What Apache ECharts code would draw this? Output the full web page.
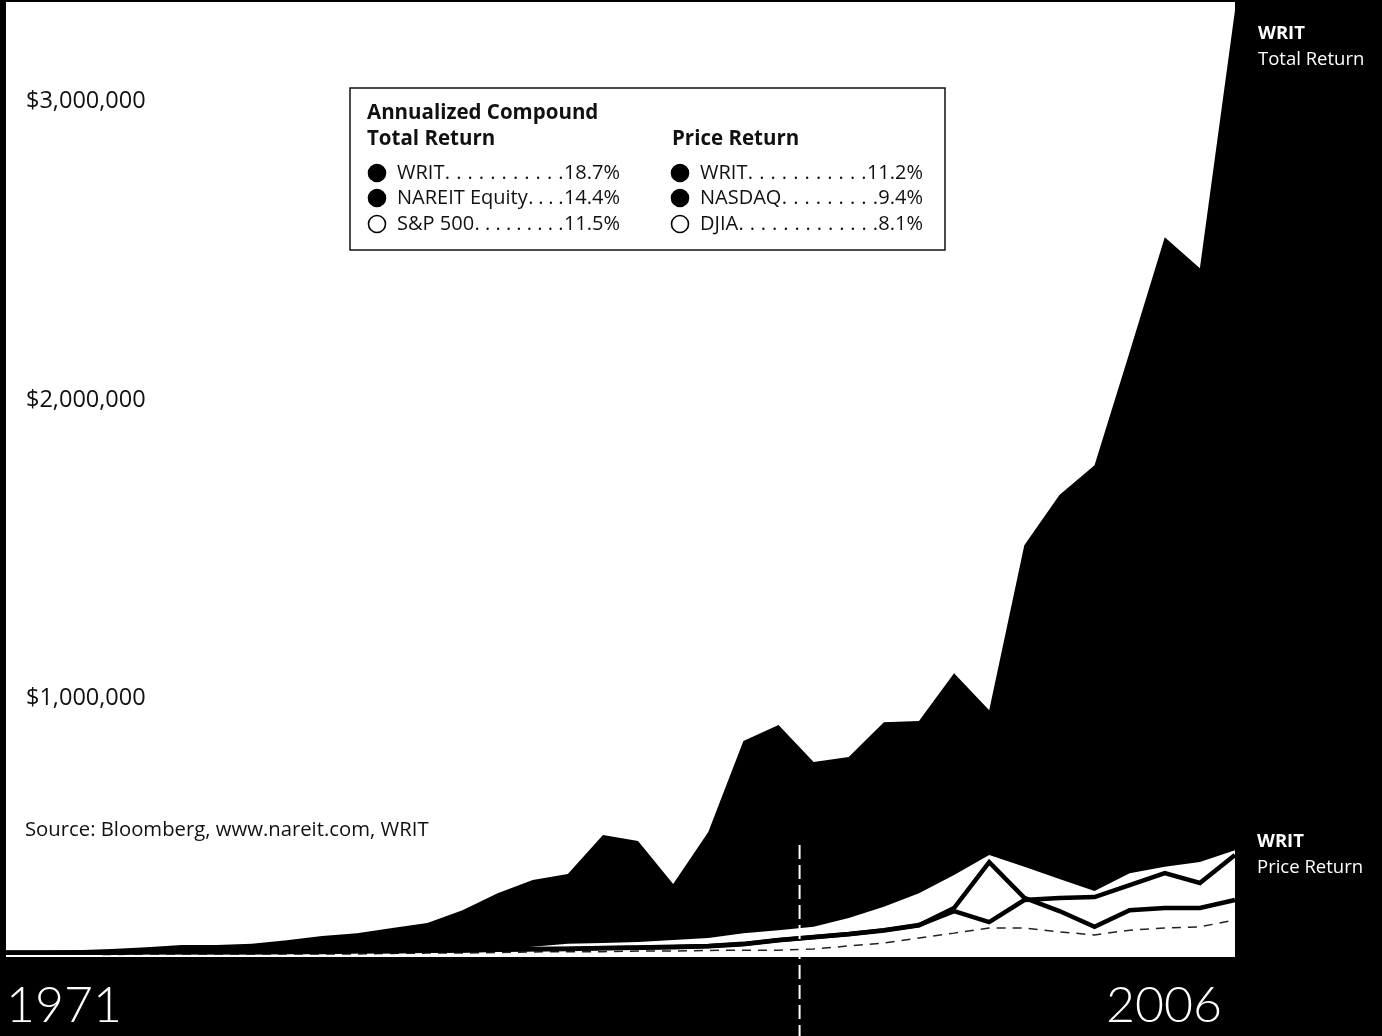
<!DOCTYPE html>
<html><head><meta charset="utf-8">
<script src="https://cdn.jsdelivr.net/npm/echarts@6/dist/echarts.min.js"></script>
<style>html,body{margin:0;padding:0;background:#000;}#c{width:1382px;height:1036px;}</style>
</head><body><div id="c"></div>
<script>
const years = [1971,1972,1973,1974,1975,1976,1977,1978,1979,1980,1981,1982,1983,1984,1985,1986,1987,1988,1989,1990,1991,1992,1993,1994,1995,1996,1997,1998,1999,2000,2001,2002,2003,2004,2005,2006];
const writTotal = [17000,20000,23000,27000,33000,40000,40000,44000,56000,70000,80000,97000,114000,157000,214000,258000,278000,409000,389000,245000,419000,724000,777000,653000,670000,787000,791000,951000,827000,1380000,1548000,1648000,2027000,2412000,2308000,3172000];
const sp500Total = [13000,13000,13000,13000,13000,15000,15000,17000,17000,18000,18000,20000,22000,23000,27000,34000,44000,47000,50000,57000,64000,80000,90000,101000,131000,168000,214000,275000,342000,302000,261000,221000,281000,302000,318000,358000];
const writPrice = [15000,15000,15000,15000,17000,17000,17000,17000,18000,18000,20000,20000,22000,23000,25000,27000,28000,30000,32000,34000,37000,44000,57000,67000,77000,90000,107000,154000,117000,191000,198000,201000,241000,281000,248000,342000];
const nasdaq = [14000,14000,14000,14000,16000,16000,16000,16000,17000,17000,19000,19000,21000,22000,24000,26000,27000,29000,31000,33000,36000,43000,56000,66000,76000,89000,106000,164000,318000,198000,154000,101000,157000,164000,164000,191000];
const djia = [10000,10000,10000,8000,10000,10000,10000,10000,10000,10000,10000,12000,13000,13000,15000,17000,18000,18000,20000,20000,22000,23000,23000,27000,37000,47000,64000,80000,97000,97000,84000,74000,90000,97000,101000,124000];
const yTicks = [1000000,2000000,3000000];
const legendTitle = ['Annualized Compound','Total Return'];
const legendTitle2 = 'Price Return';
const legendLeft = [['WRIT','18.7%',true],['NAREIT Equity','14.4%',true],['S&P 500','11.5%',false]];
const legendRight = [['WRIT','11.2%',true],['NASDAQ','9.4%',true],['DJIA','8.1%',false]];
const sourceText = 'Source: Bloomberg, www.nareit.com, WRIT';
const dividerYear = 1993.6;

const FONT = '"Open Sans", "Noto Sans", sans-serif';
const pair = arr => years.map((y,i)=>[y,arr[i]]);
const chart = echarts.init(document.getElementById('c'), null, {renderer:'canvas'});

const option = {
  animation:false,
  backgroundColor:'#000',
  grid:{left:6, right:147, top:2, bottom:79, show:true, backgroundColor:'#fff', borderWidth:0},
  xAxis:{type:'value', min:1971, max:2006, interval:35,
    axisLine:{show:false}, axisTick:{show:false}, splitLine:{show:false},
    axisLabel:{color:'#fff', margin:22, alignMinLabel:'left', alignMaxLabel:'right',
      formatter:v => v===1971 ? '{a|'+v+'}' : '{b|'+v+'}',
      rich:{a:{fontFamily:'Lato, "Open Sans", sans-serif', fontWeight:300, fontSize:50, lineHeight:53, color:'#fff'},
            b:{fontFamily:'Lato, "Open Sans", sans-serif', fontWeight:300, fontSize:50, lineHeight:53, color:'#fff', padding:[0,13,0,0]}}}},
  yAxis:{type:'value', min:0, max:3200000, interval:1000000,
    axisLine:{show:false}, axisTick:{show:false}, splitLine:{show:false},
    axisLabel:{inside:true, margin:20, align:'left', verticalAlign:'top', lineHeight:24, padding:[28,0,0,0],
      color:'#111', fontFamily:FONT, fontSize:23.5,
      formatter:v => yTicks.indexOf(v)>=0 ? '$'+v.toLocaleString('en-US') : ''}},
  series:[
    {name:'WRIT Total Return', type:'line', data:pair(writTotal), symbol:'none', z:1,
     lineStyle:{width:0, color:'#000'}, areaStyle:{color:'#000', opacity:1},
     endLabel:{show:true, distance:23, offset:[0,36], formatter:'{a|WRIT}\n{b|Total Return}',
       rich:{a:{color:'#fff', fontFamily:FONT, fontWeight:'bold', fontSize:18.5, lineHeight:26},
             b:{color:'#fff', fontFamily:FONT, fontSize:18.5, lineHeight:26}}}},
    {name:'S&P 500 Total Return', type:'line', data:pair(sp500Total), symbol:'none', z:2,
     lineStyle:{width:0, color:'#fff'}, areaStyle:{color:'#fff', opacity:1}},
    {name:'DJIA', type:'line', data:pair(djia), symbol:'none', z:3,
     lineStyle:{width:1.5, color:'#222', type:[9,7]}},
    {name:'NASDAQ', type:'line', data:pair(nasdaq), symbol:'none', z:4,
     lineStyle:{width:4.5, color:'#000', join:'miter'}},
    {name:'WRIT Price Return', type:'line', data:pair(writPrice), symbol:'none', z:5,
     lineStyle:{width:4.5, color:'#000', join:'miter'},
     endLabel:{show:true, distance:22, formatter:'{a|WRIT}\n{b|Price Return}',
       rich:{a:{color:'#fff', fontFamily:FONT, fontWeight:'bold', fontSize:18.5, lineHeight:26},
             b:{color:'#fff', fontFamily:FONT, fontSize:18.5, lineHeight:26}}}}
  ]
};
chart.setOption(option);

const cv = document.createElement('canvas').getContext('2d');
function w(text, font){ cv.font = font; return cv.measureText(text).width; }
const rowFont = '20px "Open Sans"';
const titleFont = 'bold 20.5px "Open Sans"';

const gfx = [];
const bx = 350, by = 88, bw = 595, bh = 162;
gfx.push({type:'rect', z:100, shape:{x:bx, y:by, width:bw, height:bh}, style:{fill:'#fff', stroke:'#111', lineWidth:1.5}});
gfx.push({type:'text', z:101, x:367, y:113, style:{text:legendTitle[0], fill:'#111', font:titleFont, verticalAlign:'middle'}});
gfx.push({type:'text', z:101, x:367, y:139, style:{text:legendTitle[1], fill:'#111', font:titleFont, verticalAlign:'middle'}});
gfx.push({type:'text', z:101, x:672, y:139, style:{text:legendTitle2, fill:'#111', font:titleFont, verticalAlign:'middle'}});
const rowsY = [173,198,224];
function addCol(rows, cx, tx, rx){
  rows.forEach((r,i)=>{
    const y = rowsY[i];
    gfx.push({type:'circle', z:101, shape:{cx:cx, cy:y, r:8.5}, style:{fill:r[2]?'#000':'#fff', stroke:'#000', lineWidth:1.6}});
    const nameW = w(r[0], rowFont), pctW = w(r[1], rowFont);
    gfx.push({type:'text', z:101, x:tx, y:y, style:{text:r[0], fill:'#111', font:rowFont, verticalAlign:'middle'}});
    gfx.push({type:'text', z:101, x:rx, y:y, style:{text:r[1], fill:'#111', font:rowFont, align:'right', verticalAlign:'middle'}});
    const s = tx + nameW + 3, e = rx - pctW - 3;
    const n = Math.max(2, Math.round((e - s) / 11) + 1);
    const step = (e - s) / (n - 1);
    for (let k = 0; k < n; k++) {
      gfx.push({type:'text', z:101, x:s + k*step, y:y, style:{text:'.', fill:'#111', font:rowFont, align:'center', verticalAlign:'middle'}});
    }
  });
}
addCol(legendLeft, 377, 397, 620);
addCol(legendRight, 680, 700, 923);
gfx.push({type:'text', z:101, x:25, y:830, style:{text:sourceText, fill:'#111', font:'20.3px '+FONT, verticalAlign:'middle'}});
const dx = chart.convertToPixel({xAxisIndex:0}, dividerYear);
gfx.push({type:'line', z:50, shape:{x1:dx, y1:845, x2:dx, y2:1036}, style:{stroke:'#fff', lineWidth:2, lineDash:[14,6]}});
chart.setOption({graphic:gfx});
</script></body></html>
